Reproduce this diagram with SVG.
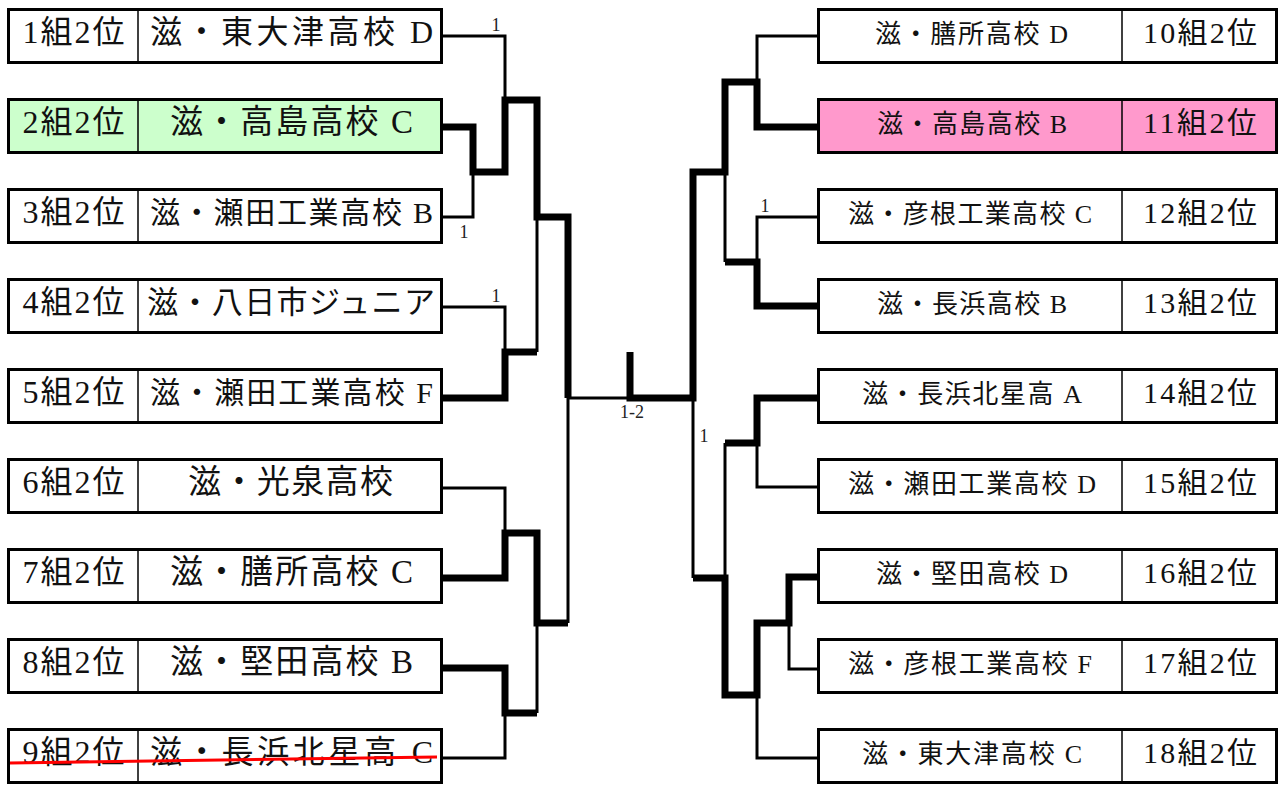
<svg xmlns="http://www.w3.org/2000/svg" width="1281" height="785" viewBox="0 0 1281 785">
<style>
  .box { fill: #ffffff; stroke: #000; stroke-width: 3; }
  .green { fill: #ccffcc; }
  .pink { fill: #ff99cc; }
  .div { stroke: #000; stroke-width: 1.5; }
  .t { font-family: "Liberation Serif", "Noto Sans CJK JP", serif; fill: #111; text-anchor: middle; }
  .thin { fill: none; stroke: #000; stroke-width: 3; stroke-linejoin: miter; }
  .thick { fill: none; stroke: #000; stroke-width: 7; stroke-linejoin: miter; }
  .lbl { font-family: "Liberation Serif", serif; font-size: 18px; fill: #222; text-anchor: middle; }
  .strike { stroke: #ff0000; stroke-width: 3; }
</style>
<rect width="1281" height="785" fill="#ffffff"/>

<g id="connectors">
  <path class="thin" d="M443,36 H505 V100"/>
  <path class="thin" d="M443,217 H473 V172"/>
  <path class="thin" d="M443,307 H505 V352"/>
  <path class="thin" d="M537,352 V217"/>
  <path class="thin" d="M443,488 H505 V533"/>
  <path class="thin" d="M568,623 V398 H630"/>
  <path class="thin" d="M537,713 V623"/>
  <path class="thin" d="M443,758 H505 V713"/>
  <path class="thick" d="M443,127 H473 V172 H505 V100 H537 V217 H568 V398"/>
  <path class="thick" d="M443,398 H505 V352 H537"/>
  <path class="thick" d="M443,578 H505 V533 H537 V623 H568"/>
  <path class="thick" d="M443,668 H505 V713 H537"/>

  <path class="thick" d="M630,352 V398 H693 V172 H725 V82 H757 V127 H818"/>
  <path class="thick" d="M725,262 H757 V306 H818"/>
  <path class="thick" d="M818,398 H757 V443 H725"/>
  <path class="thick" d="M693,578 H725 V695 H757 V623 H789 V577 H818"/>
  <path class="thin" d="M818,36 H757 V82"/>
  <path class="thin" d="M725,172 V262"/>
  <path class="thin" d="M818,217 H757 V262"/>
  <path class="thin" d="M818,487 H757 V443"/>
  <path class="thin" d="M725,443 V578"/>
  <path class="thin" d="M693,398 V578"/>
  <path class="thin" d="M818,669 H789 V623"/>
  <path class="thin" d="M818,758 H757 V695"/>

  <text class="lbl" x="496" y="31">1</text>
  <text class="lbl" x="464" y="238">1</text>
  <text class="lbl" x="496" y="302">1</text>
  <text class="lbl" x="632" y="418">1-2</text>
  <text class="lbl" x="765" y="212">1</text>
  <text class="lbl" x="704" y="442">1</text>
</g>

<g id="node-1">
  <rect class="box" x="8.5" y="9.5" width="433" height="53"/>
  <line class="div" x1="138" y1="9.5" x2="138" y2="62.5"/>
  <text class="t" x="73.5" y="43" font-size="32" textLength="102">1組2位</text>
  <text class="t" x="291.5" y="43" font-size="32" textLength="283">滋・東大津高校 D</text>
</g>
<g id="node-2">
  <rect class="box green" x="8.5" y="99.5" width="433" height="53"/>
  <line class="div" x1="138" y1="99.5" x2="138" y2="152.5"/>
  <text class="t" x="73.5" y="133" font-size="32" textLength="102">2組2位</text>
  <text class="t" x="291.5" y="133" font-size="33" textLength="243">滋・高島高校 C</text>
</g>
<g id="node-3">
  <rect class="box" x="8.5" y="189.5" width="433" height="53"/>
  <line class="div" x1="138" y1="189.5" x2="138" y2="242.5"/>
  <text class="t" x="73.5" y="223" font-size="32" textLength="102">3組2位</text>
  <text class="t" x="291.5" y="223" font-size="30" textLength="283">滋・瀬田工業高校 B</text>
</g>
<g id="node-4">
  <rect class="box" x="8.5" y="279.5" width="433" height="53"/>
  <line class="div" x1="138" y1="279.5" x2="138" y2="332.5"/>
  <text class="t" x="73.5" y="313" font-size="32" textLength="102">4組2位</text>
  <text class="t" x="291" y="313" font-size="31" textLength="288">滋・八日市ジュニア</text>
</g>
<g id="node-5">
  <rect class="box" x="8.5" y="369.5" width="433" height="53"/>
  <line class="div" x1="138" y1="369.5" x2="138" y2="422.5"/>
  <text class="t" x="73.5" y="403" font-size="32" textLength="102">5組2位</text>
  <text class="t" x="291.5" y="403" font-size="30" textLength="283">滋・瀬田工業高校 F</text>
</g>
<g id="node-6">
  <rect class="box" x="8.5" y="459.5" width="433" height="53"/>
  <line class="div" x1="138" y1="459.5" x2="138" y2="512.5"/>
  <text class="t" x="73.5" y="493" font-size="32" textLength="102">6組2位</text>
  <text class="t" x="290.5" y="493" font-size="33" textLength="205">滋・光泉高校</text>
</g>
<g id="node-7">
  <rect class="box" x="8.5" y="549.5" width="433" height="53"/>
  <line class="div" x1="138" y1="549.5" x2="138" y2="602.5"/>
  <text class="t" x="73.5" y="583" font-size="32" textLength="102">7組2位</text>
  <text class="t" x="291.5" y="583" font-size="33" textLength="243">滋・膳所高校 C</text>
</g>
<g id="node-8">
  <rect class="box" x="8.5" y="639.5" width="433" height="53"/>
  <line class="div" x1="138" y1="639.5" x2="138" y2="692.5"/>
  <text class="t" x="73.5" y="673" font-size="32" textLength="102">8組2位</text>
  <text class="t" x="291.5" y="673" font-size="33" textLength="243">滋・堅田高校 B</text>
</g>
<g id="node-9">
  <rect class="box" x="8.5" y="729.5" width="433" height="53"/>
  <line class="div" x1="138" y1="729.5" x2="138" y2="782.5"/>
  <text class="t" x="73.5" y="763" font-size="32" textLength="102">9組2位</text>
  <text class="t" x="291.5" y="763" font-size="32" textLength="283">滋・長浜北星高 C</text>
  <line class="strike" x1="10" y1="763" x2="437" y2="757"/>
</g>

<g id="node-10">
  <rect class="box" x="818.5" y="9.5" width="458" height="53"/>
  <line class="div" x1="1122" y1="9.5" x2="1122" y2="62.5"/>
  <text class="t" x="971.5" y="43" font-size="26" textLength="193">滋・膳所高校 D</text>
  <text class="t" x="1200" y="43" font-size="30" textLength="114">10組2位</text>
</g>
<g id="node-11">
  <rect class="box pink" x="818.5" y="99.5" width="458" height="53"/>
  <line class="div" x1="1122" y1="99.5" x2="1122" y2="152.5"/>
  <text class="t" x="972" y="133" font-size="26" textLength="190">滋・高島高校 B</text>
  <text class="t" x="1200" y="133" font-size="30" textLength="114">11組2位</text>
</g>
<g id="node-12">
  <rect class="box" x="818.5" y="189.5" width="458" height="53"/>
  <line class="div" x1="1122" y1="189.5" x2="1122" y2="242.5"/>
  <text class="t" x="970" y="223" font-size="26" textLength="244">滋・彦根工業高校 C</text>
  <text class="t" x="1200" y="223" font-size="30" textLength="114">12組2位</text>
</g>
<g id="node-13">
  <rect class="box" x="818.5" y="279.5" width="458" height="53"/>
  <line class="div" x1="1122" y1="279.5" x2="1122" y2="332.5"/>
  <text class="t" x="972" y="313" font-size="26" textLength="190">滋・長浜高校 B</text>
  <text class="t" x="1200" y="313" font-size="30" textLength="114">13組2位</text>
</g>
<g id="node-14">
  <rect class="box" x="818.5" y="369.5" width="458" height="53"/>
  <line class="div" x1="1122" y1="369.5" x2="1122" y2="422.5"/>
  <text class="t" x="972" y="403" font-size="26" textLength="220">滋・長浜北星高 A</text>
  <text class="t" x="1200" y="403" font-size="30" textLength="114">14組2位</text>
</g>
<g id="node-15">
  <rect class="box" x="818.5" y="459.5" width="458" height="53"/>
  <line class="div" x1="1122" y1="459.5" x2="1122" y2="512.5"/>
  <text class="t" x="972" y="493" font-size="26" textLength="248">滋・瀬田工業高校 D</text>
  <text class="t" x="1200" y="493" font-size="30" textLength="114">15組2位</text>
</g>
<g id="node-16">
  <rect class="box" x="818.5" y="549.5" width="458" height="53"/>
  <line class="div" x1="1122" y1="549.5" x2="1122" y2="602.5"/>
  <text class="t" x="972" y="583" font-size="26" textLength="192">滋・堅田高校 D</text>
  <text class="t" x="1200" y="583" font-size="30" textLength="114">16組2位</text>
</g>
<g id="node-17">
  <rect class="box" x="818.5" y="639.5" width="458" height="53"/>
  <line class="div" x1="1122" y1="639.5" x2="1122" y2="692.5"/>
  <text class="t" x="970" y="673" font-size="26" textLength="244">滋・彦根工業高校 F</text>
  <text class="t" x="1200" y="673" font-size="30" textLength="114">17組2位</text>
</g>
<g id="node-18">
  <rect class="box" x="818.5" y="729.5" width="458" height="53"/>
  <line class="div" x1="1122" y1="729.5" x2="1122" y2="782.5"/>
  <text class="t" x="972" y="763" font-size="26" textLength="220">滋・東大津高校 C</text>
  <text class="t" x="1200" y="763" font-size="30" textLength="114">18組2位</text>
</g>
</svg>
